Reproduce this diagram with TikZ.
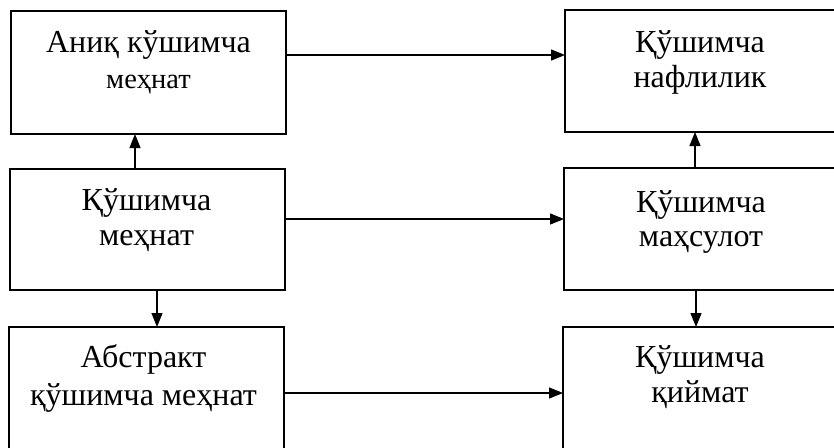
\documentclass[tikz,border=0pt]{standalone}
\usepackage{fontspec}
\setmainfont{Liberation Serif}
\usetikzlibrary{arrows.meta}
\begin{document}
\begin{tikzpicture}[x=1pt,y=-1pt,
  box/.style={draw, line width=1.2pt, rectangle, inner sep=0pt, outer sep=0pt, anchor=north west},
  lbl/.style={anchor=base, inner sep=0pt, font=\fontsize{32}{38}\selectfont},
  lblsmall/.style={anchor=base, inner sep=0pt, font=\fontsize{28.5}{34}\selectfont},
  arr/.style={line width=1.2pt, -{Triangle[length=14pt,width=11pt]}}]
\useasboundingbox (0,0) rectangle (834,447);
\clip (0,0) rectangle (834,447);
% boxes
\node[box, minimum width=275pt, minimum height=123pt] (A) at (11,11) {};
\node[box, minimum width=275pt, minimum height=121pt] (B) at (10,169) {};
\node[box, minimum width=275pt, minimum height=140pt] (C) at (9,327) {};
\node[box, minimum width=275pt, minimum height=122pt] (D) at (565,10) {};
\node[box, minimum width=276pt, minimum height=122pt] (E) at (564,168) {};
\node[box, minimum width=277pt, minimum height=140pt] (F) at (563,327) {};
% texts
\node[lbl] (a1) at ([yshift=-41pt]A.north) {Аниқ кўшимча};
\node[lblsmall] (a2) at ([yshift=-77pt]A.north) {меҳнат};
\node[lbl] (b1) at ([xshift=-1pt,yshift=-41pt]B.north) {Қўшимча};
\node[lbl] (b2) at ([xshift=-1pt,yshift=-76pt]B.north) {меҳнат};
\node[lbl] (c1) at ([xshift=-3pt,yshift=-40pt]C.north) {Абстракт};
\node[lbl] (c2) at ([xshift=-3pt,yshift=-78pt]C.north) {қўшимча меҳнат};
\node[lbl] (d1) at ([xshift=135pt,yshift=-42pt]D.north west) {Қўшимча};
\node[lbl] (d2) at ([xshift=135pt,yshift=-77pt]D.north west) {нафлилик};
\node[lbl] (e1) at ([xshift=137pt,yshift=-44pt]E.north west) {Қўшимча};
\node[lbl] (e2) at ([xshift=137pt,yshift=-78pt]E.north west) {маҳсулот};
\node[lbl] (f1) at ([xshift=137pt,yshift=-40pt]F.north west) {Қўшимча};
\node[lbl] (f2) at ([xshift=137pt,yshift=-75pt]F.north west) {қиймат};
% vertical arrows
\draw[arr] ([xshift=125pt]B.north west) -- ([xshift=124pt]A.south west);
\draw[arr] ([xshift=147pt]B.south west) -- ([xshift=148pt]C.north west);
\draw[arr] ([xshift=131pt]E.north west) -- ([xshift=130pt]D.south west);
\draw[arr] ([xshift=132pt]E.south west) -- ([xshift=133pt]F.north west);
% horizontal arrows
\draw[arr] ([yshift=-44pt]A.north east) -- ([yshift=-45pt]D.north west);
\draw[arr] ([yshift=-50pt]B.north east) -- ([yshift=-51pt]E.north west);
\draw[arr] ([yshift=-66pt]C.north east) -- ([yshift=-66pt]F.north west);
\end{tikzpicture}
\end{document}
